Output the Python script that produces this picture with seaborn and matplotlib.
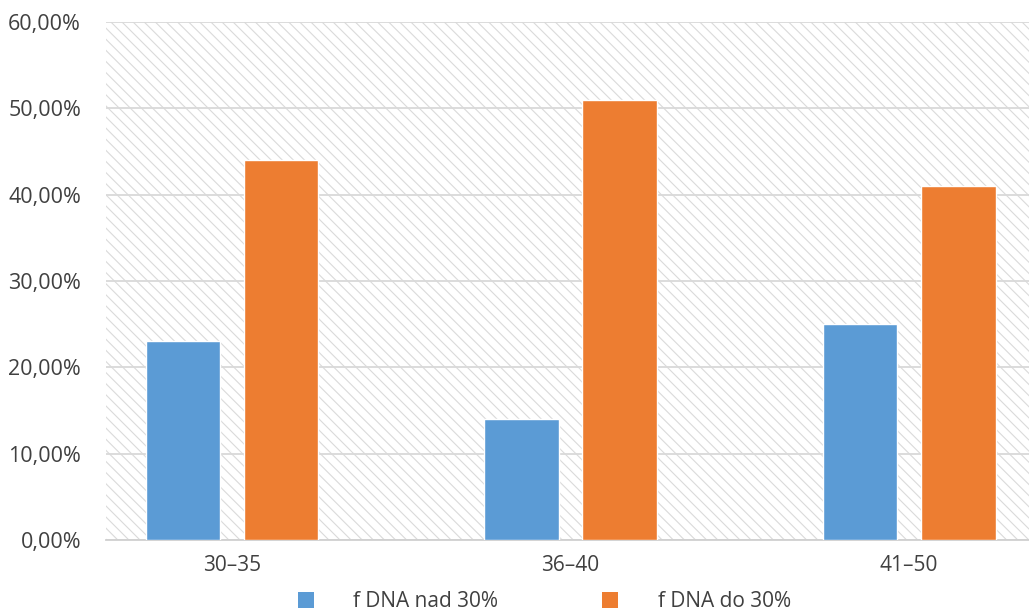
import pandas as pd
import seaborn as sns
import matplotlib.pyplot as plt
from matplotlib.patches import Rectangle, Patch
from matplotlib.ticker import FuncFormatter

# Data
groups = ['30–35', '36–40', '41–50']
series = ['f DNA nad 30%', 'f DNA do 30%']
nad_30 = [23.0, 14.0, 25.0]
do_30 = [44.0, 51.0, 41.0]
colors = ['#5B9BD5', '#ED7D31']

df = pd.DataFrame({
    'group': groups * 2,
    'series': [series[0]] * 3 + [series[1]] * 3,
    'value': nad_30 + do_30,
})

sns.set_style('white')
plt.rcParams['font.family'] = ['Open Sans', 'DejaVu Sans']
plt.rcParams['hatch.linewidth'] = 0.8

fig = plt.figure(figsize=(10.29, 6.14), dpi=100)
ax = fig.add_axes([106 / 1029, 74 / 614, 1 - 106 / 1029, 518 / 614])

# hatched background
bg = Rectangle((0, 0), 1, 1, transform=ax.transAxes, facecolor='white',
               edgecolor='#dadada', hatch='\\\\\\', linewidth=0, zorder=0)
ax.add_patch(bg)

sns.barplot(data=df, x='group', y='value', hue='series', palette=colors,
            width=0.58, gap=0.24, ax=ax, legend=False, zorder=3,
            saturation=1)

ax.set_ylim(0, 60)
ax.set_xlim(-0.372, 2.354)
ax.set_yticks(range(0, 61, 10))
ax.yaxis.set_major_formatter(FuncFormatter(lambda v, p: f'{v:.2f}'.replace('.', ',') + '%'))
ax.grid(axis='y', color='#d9d9d9', linewidth=1.3, zorder=1)
ax.set_axisbelow(True)
for s in ['top', 'right', 'left']:
    ax.spines[s].set_visible(False)
ax.spines['bottom'].set_color('#d0d0d0')
ax.spines['bottom'].set_linewidth(1.3)
ax.tick_params(axis='y', length=0, pad=18, labelsize=15.5, labelcolor='#404040')
ax.tick_params(axis='x', length=0, pad=11, labelsize=15, labelcolor='#404040')
ax.set_xlabel('')
ax.set_ylabel('')

handles = [Patch(facecolor=c, edgecolor='none') for c in colors]
fig.legend(handles, series, loc='center', bbox_to_anchor=(0.529, 0.02),
           ncol=2, frameon=False, fontsize=15, handlelength=0.75,
           handleheight=0.75, handletextpad=1.9, columnspacing=5.0,
           labelcolor='#404040')

fig.savefig('out.png', dpi=100)
